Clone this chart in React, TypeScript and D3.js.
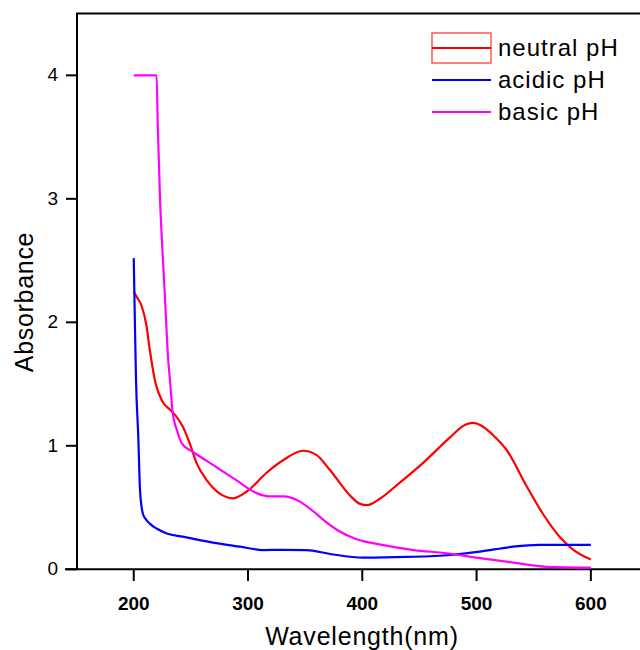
import React from 'react'
import { useRef, useEffect } from "react";
import * as d3 from 'd3';

// neutral pH
const neutralWl = [200, 203, 207, 211, 214, 219, 225, 232, 237, 243, 249, 255, 264, 275, 287, 299, 316, 331, 348, 360, 372, 389, 398, 404, 416, 430, 453, 477, 490, 497, 504, 514, 526, 544, 558, 573, 585, 600];
const neutralAbs = [2.25, 2.2, 2.13, 1.98, 1.78, 1.51, 1.36, 1.29, 1.24, 1.155, 1.02, 0.86, 0.72, 0.615, 0.575, 0.63, 0.78, 0.885, 0.96, 0.925, 0.8, 0.6, 0.53, 0.52, 0.575, 0.68, 0.86, 1.07, 1.17, 1.185, 1.165, 1.09, 0.97, 0.67, 0.45, 0.26, 0.156, 0.08];

// acidic pH
const acidicWl = [200, 201, 202, 204, 205.5, 208, 211, 214, 220, 229, 243, 267, 293, 313, 330, 351, 372, 401, 439, 477, 503, 532, 555, 600];
const acidicAbs = [2.52, 2.0, 1.53, 1.07, 0.64, 0.45, 0.4, 0.37, 0.33, 0.29, 0.264, 0.22, 0.183, 0.156, 0.158, 0.156, 0.124, 0.094, 0.1, 0.116, 0.143, 0.183, 0.197, 0.197];

// basic pH
const basicWl = [200, 210, 220, 221, 223, 225, 227, 230, 232, 234, 238, 242, 252, 272, 290, 308, 319, 331, 345, 357, 366, 378, 395, 416, 445, 474, 503, 532, 561, 600];
const basicAbs = [4.0, 4.0, 4.0, 3.6, 3.0, 2.6, 2.26, 1.72, 1.5, 1.27, 1.12, 1.02, 0.95, 0.83, 0.72, 0.615, 0.59, 0.59, 0.55, 0.47, 0.4, 0.318, 0.243, 0.2, 0.156, 0.13, 0.09, 0.054, 0.02, 0.013];

const xTicks = [200, 300, 400, 500, 600];
const yTicks = [0, 1, 2, 3, 4];
const seriesNames = ["neutral pH", "acidic pH", "basic pH"];
const seriesColors = ["#ff0000", "#0000ff", "#ff00ff"];

export default function App() {
  const svgRef = useRef(null);

  useEffect(() => {
    const w = 640;
    const h = 650;
    const svg = d3.select(svgRef.current);
    svg.selectAll('*').remove();
    svg.attr('width', w).attr('height', h);

    const x = d3.scaleLinear().domain([150, 650]).range([76.6, 648]);
    const y = d3.scaleLinear().domain([0, 4.5]).range([569.3, 13.6]);
    const font = 'Arial, "Liberation Sans", sans-serif';

    //frame
    svg.append('line').attr('x1', 77).attr('x2', 77).attr('y1', 13).attr('y2', 569.3)
      .attr('stroke', 'black').attr('stroke-width', 2);
    svg.append('line').attr('x1', 76).attr('x2', 640).attr('y1', 13.6).attr('y2', 13.6)
      .attr('stroke', 'black').attr('stroke-width', 2);
    svg.append('line').attr('x1', 65).attr('x2', 640).attr('y1', 569.3).attr('y2', 569.3)
      .attr('stroke', 'black').attr('stroke-width', 2);

    //x ticks
    const xg = svg.append('g');
    xg.selectAll('line').data(xTicks).enter().append('line')
      .attr('x1', d => x(d)).attr('x2', d => x(d))
      .attr('y1', 569).attr('y2', 581)
      .attr('stroke', 'black').attr('stroke-width', 2);
    xg.selectAll('text').data(xTicks).enter().append('text')
      .attr('x', d => x(d)).attr('y', 610)
      .attr('text-anchor', 'middle')
      .style('font-family', font).style('font-size', '19px').style('font-weight', 'bold')
      .text(d => d);

    //y ticks
    const yg = svg.append('g');
    yg.selectAll('line').data(yTicks).enter().append('line')
      .attr('x1', 66).attr('x2', 77)
      .attr('y1', d => y(d)).attr('y2', d => y(d))
      .attr('stroke', 'black').attr('stroke-width', 2);
    yg.selectAll('text').data(yTicks).enter().append('text')
      .attr('x', 58).attr('y', d => y(d) + 6)
      .attr('text-anchor', 'end')
      .style('font-family', font).style('font-size', '19px')
      .text(d => d);

    //labels
    svg.append('text').attr('x', 362).attr('y', 645)
      .attr('text-anchor', 'middle')
      .style('font-family', font).style('font-size', '25px').style('letter-spacing', '0.8px')
      .text('Wavelength(nm)');
    svg.append('text')
      .attr('transform', 'translate(33,302) rotate(-90)')
      .attr('text-anchor', 'middle')
      .style('font-family', font).style('font-size', '25px').style('letter-spacing', '0.7px')
      .text('Absorbance');

    //curves
    const series = [
      neutralWl.map((d, i) => [d, neutralAbs[i]]),
      acidicWl.map((d, i) => [d, acidicAbs[i]]),
      basicWl.map((d, i) => [d, basicAbs[i]]),
    ];
    const line = d3.line().x(d => x(d[0])).y(d => y(d[1])).curve(d3.curveMonotoneX);
    svg.selectAll('path.curve').data(series).enter().append('path')
      .attr('class', 'curve')
      .attr('d', d => line(d))
      .attr('fill', 'none')
      .attr('stroke', (d, i) => seriesColors[i])
      .attr('stroke-width', 2.2);

    //legend
    const lg = svg.append('g');
    lg.append('rect').attr('x', 432).attr('y', 33).attr('width', 59).attr('height', 30)
      .attr('fill', 'none').attr('stroke', '#ff4a4a').attr('stroke-width', 1.4);
    seriesNames.forEach((name, i) => {
      const ly = 48 + i * 32;
      lg.append('line').attr('x1', 432).attr('x2', 491).attr('y1', ly).attr('y2', ly)
        .attr('stroke', seriesColors[i]).attr('stroke-width', 2.2);
      lg.append('text').attr('x', 498).attr('y', ly + 8)
        .style('font-family', font).style('font-size', '24px').style('letter-spacing', '1px')
        .text(name);
    });
  }, []);

  return (
    <div>
      <svg ref={svgRef} style={{ position: 'absolute', left: 0, top: 0 }}></svg>
    </div>
  )
}
